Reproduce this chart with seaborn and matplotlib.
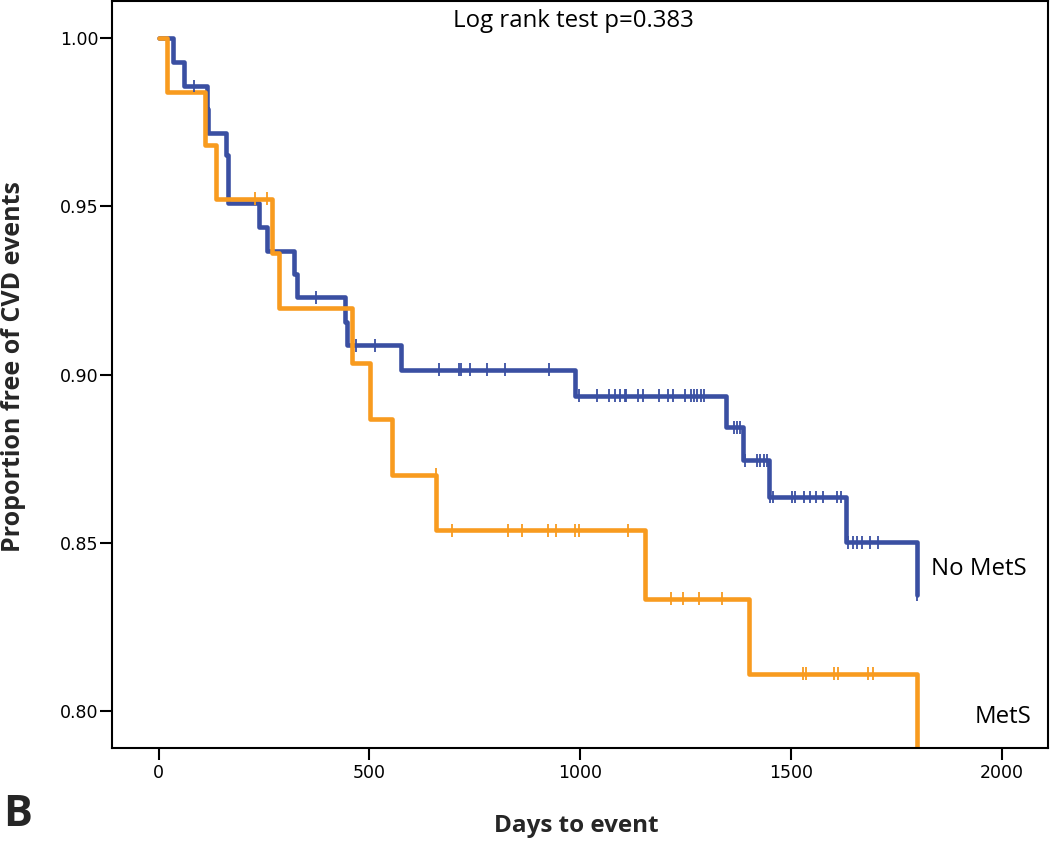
import numpy as np
import pandas as pd
import seaborn as sns
import matplotlib
matplotlib.use("Agg")
import matplotlib.pyplot as plt

# Kaplan-Meier steps (days, proportion free of CVD events)
nomets_times = [0, 33, 60, 115, 118, 160, 164, 239, 256, 321, 329, 443, 447, 574,
                988, 1345, 1386, 1448, 1632, 1800]
nomets_surv = [1.0, 0.993, 0.9858, 0.979, 0.972, 0.9653, 0.951, 0.944, 0.9369, 0.930,
               0.923, 0.9158, 0.9087, 0.9015, 0.8937, 0.8843, 0.8745, 0.8636, 0.8502, 0.8346]
nomets_censor = [84, 373, 468, 513, 666, 713, 718, 739, 778, 822, 926,
                 997, 1039, 1069, 1083, 1094, 1106, 1110, 1138, 1150, 1188, 1209, 1221,
                 1250, 1262, 1270, 1278, 1286, 1294, 1365, 1372, 1380,
                 1391, 1419, 1427, 1436, 1444,
                 1450, 1458, 1502, 1510, 1531, 1545, 1560, 1577, 1610, 1620,
                 1636, 1648, 1657, 1668, 1688, 1707, 1800]

mets_times = [0, 19, 110, 136, 270, 286, 459, 501, 554, 659, 1153, 1401, 1800]
mets_surv = [1.0, 0.9841, 0.9683, 0.9523, 0.9363, 0.9198, 0.9036, 0.8868, 0.8703,
             0.8537, 0.8334, 0.8111, 0.70]
mets_censor = [228, 256, 657, 697, 828, 861, 924, 942, 989, 997, 1113,
               1215, 1243, 1282, 1336, 1529, 1535, 1602, 1612, 1683, 1695]

groups = ["No MetS", "MetS"]
colors = {"No MetS": "#3a4fa2", "MetS": "#f89b1f"}


def step_value(times, surv, t):
    # survival value in effect at time t (right-continuous step)
    i = np.searchsorted(times, t, side="right") - 1
    return surv[i]


steps = pd.concat([
    pd.DataFrame({"days": nomets_times, "surv": nomets_surv, "group": "No MetS"}),
    pd.DataFrame({"days": mets_times, "surv": mets_surv, "group": "MetS"}),
])
censored = pd.concat([
    pd.DataFrame({"days": nomets_censor,
                  "surv": [step_value(nomets_times, nomets_surv, t) for t in nomets_censor],
                  "group": "No MetS"}),
    pd.DataFrame({"days": mets_censor,
                  "surv": [step_value(mets_times, mets_surv, t) for t in mets_censor],
                  "group": "MetS"}),
])

sns.set_theme(style="ticks")
plt.rcParams["font.family"] = ["Open Sans", "DejaVu Sans"]

fig = plt.figure(figsize=(10.5, 8.42), dpi=100)
ax = fig.add_axes([0.1064, 0.1113, 0.8916, 0.8875])

sns.lineplot(data=steps, x="days", y="surv", hue="group", hue_order=groups,
             palette=colors, drawstyle="steps-post", estimator=None, sort=True,
             linewidth=3.3, legend=False, ax=ax)
sns.scatterplot(data=censored, x="days", y="surv", hue="group", hue_order=groups,
                palette=colors, marker="|", s=85, linewidth=1.3, legend=False,
                ax=ax, zorder=3)

ax.set_xlim(-111.5, 2110)
ax.set_ylim(0.7889, 1.0111)
ax.set_xticks([0, 500, 1000, 1500, 2000])
ax.set_yticks([0.80, 0.85, 0.90, 0.95, 1.00])
ax.set_yticklabels([f"{v:.2f}" for v in [0.80, 0.85, 0.90, 0.95, 1.00]],
                   family="DejaVu Sans")
ax.set_xticklabels(["0", "500", "1000", "1500", "2000"], family="DejaVu Sans")
ax.tick_params(axis="both", labelsize=12.5, length=8.4, width=1.5, color="black",
               labelcolor="black")
ax.tick_params(axis="y", pad=1)
ax.tick_params(axis="x", pad=3)
for sp in ax.spines.values():
    sp.set_visible(True)
    sp.set_color("black")
    sp.set_linewidth(1.5)
ax.set_xlabel("")
ax.set_ylabel("")

ax.text(985, 1.0033, "Log rank test p=0.383", ha="center", va="baseline",
        fontsize=17.3, color="black")
ax.text(1832, 0.8403, "No MetS", ha="left", va="baseline", fontsize=17.3, color="black")
ax.text(1935, 0.7963, "MetS", ha="left", va="baseline", fontsize=17.3, color="black")

fig.text(576.5 / 1050, 1 - 826 / 842, "Days to event", ha="center", va="center",
         fontsize=17.5, fontweight="bold")
fig.text(14 / 1050, 1 - 366.5 / 842, "Proportion free of CVD events", ha="center",
         va="center", rotation=90, fontsize=18, fontweight="bold")
fig.text(3 / 1050, 1 - 826 / 842, "B", ha="left", va="baseline", fontsize=31,
         fontweight="bold")

fig.savefig("out.png", dpi=100)
